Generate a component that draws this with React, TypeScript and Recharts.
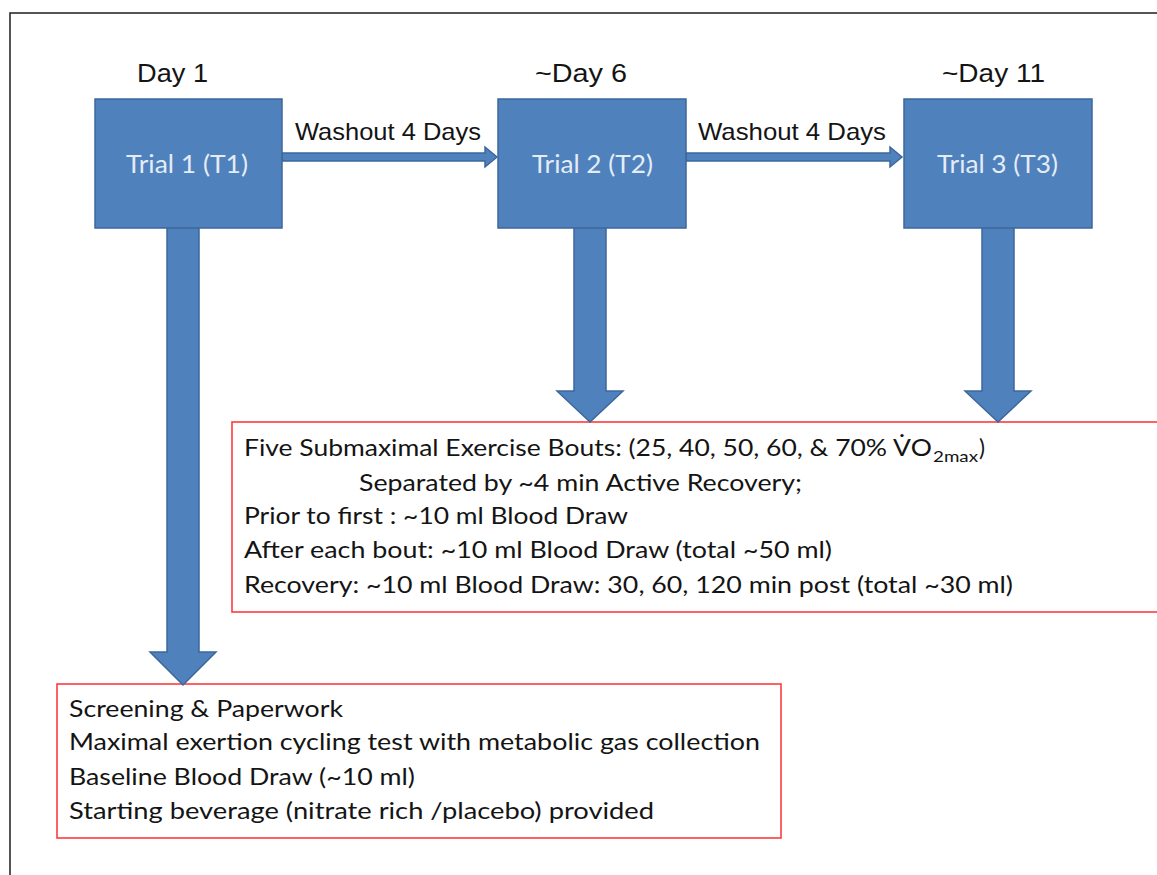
import { Scatter, ScatterChart, XAxis, YAxis } from "recharts";

const W = 1157;
const H = 875;

// text content
const dayLabels = ["Day 1", "~Day 6", "~Day 11"];
const trialLabels = ["Trial 1 (T1)", "Trial 2 (T2)", "Trial 3 (T3)"];
const washoutLabels = ["Washout 4 Days", "Washout 4 Days"];
const boutLine = ["Five Submaximal Exercise Bouts: (25, 40, 50, 60, & 70% V\u0307O", "2max", ")"];
const trialSteps = [
  "Separated by ~4 min Active Recovery;",
  "Prior to first : ~10 ml Blood Draw",
  "After each bout: ~10 ml Blood Draw (total ~50 ml)",
  "Recovery: ~10 ml Blood Draw: 30, 60, 120 min post (total ~30 ml)",
];
const screeningSteps = [
  "Screening & Paperwork",
  "Maximal exertion cycling test with metabolic gas collection",
  "Baseline Blood Draw (~10 ml)",
  "Starting beverage (nitrate rich /placebo) provided",
];

// layout (diagram units = px, domain matches the chart size)
const trialBoxLayout = [
  { x: 95, y: 99, w: 187, h: 129 },
  { x: 498, y: 99, w: 188, h: 129 },
  { x: 904, y: 99, w: 188, h: 129 },
];
const dayLayout = [
  { x: 137, w: 71 },
  { x: 535, w: 92 },
  { x: 942, w: 103 },
];
const trialTextLayout = [
  { x: 126, w: 122 },
  { x: 532, w: 121 },
  { x: 937, w: 121 },
];
const washoutLayout = [
  { x: 295, w: 186 },
  { x: 698, w: 188 },
];
const arrowLayout = [
  { x: 282, y: 157, tx: 497, ty: 157, s: 4, hw: 10, hl: 12 },
  { x: 686, y: 157, tx: 902, ty: 157, s: 4, hw: 10, hl: 12 },
  { x: 183, y: 226, tx: 183, ty: 685, s: 16, hw: 33, hl: 33 },
  { x: 590, y: 226, tx: 590, ty: 422, s: 16, hw: 33, hl: 31 },
  { x: 998, y: 226, tx: 998, ty: 422, s: 16, hw: 33, hl: 31 },
];
const redBoxLayout = [
  { x: 232, y: 422, w: 960, h: 190 },
  { x: 57, y: 684, w: 724, h: 154 },
];
const frameLayout = [{ x: 10, y: 13, w: 1200, h: 900 }];
const stepsX = 244;
const stepsIndentX = 359;
const stepsBase = [491, 524, 558, 593];
const stepsLen = [443, 384, 588, 769];
const screenX = 69;
const screenBase = [717, 750, 785, 819];
const screenLen = [274, 691, 346, 585];

const BLUE = "#4f81bd";
const BLUE_EDGE = "#3c679c";
const RED = "#ff3b3b";
const INK = "#141414";
const CAL = "Lato, 'Open Sans', sans-serif";
const ARIAL = "'Liberation Sans', Arial, sans-serif";

const kx = 1;
const ky = 1;

const rectShape = (fill: string, stroke: string, sw: number) => (p: any) => (
  <rect
    x={p.cx}
    y={p.cy}
    width={p.payload.w * kx}
    height={p.payload.h * ky}
    fill={fill}
    stroke={stroke}
    strokeWidth={sw}
  />
);

const arrowShape = (p: any) => {
  const d = p.payload;
  const x0 = p.cx;
  const y0 = p.cy;
  const x1 = x0 + (d.tx - d.x) * kx;
  const y1 = y0 + (d.ty - d.y) * ky;
  const len = Math.hypot(x1 - x0, y1 - y0);
  const ux = (x1 - x0) / len;
  const uy = (y1 - y0) / len;
  const nx = -uy;
  const ny = ux;
  const bx = x1 - ux * d.hl;
  const by = y1 - uy * d.hl;
  const pts = [
    [x0 + nx * d.s, y0 + ny * d.s],
    [bx + nx * d.s, by + ny * d.s],
    [bx + nx * d.hw, by + ny * d.hw],
    [x1, y1],
    [bx - nx * d.hw, by - ny * d.hw],
    [bx - nx * d.s, by - ny * d.s],
    [x0 - nx * d.s, y0 - ny * d.s],
  ]
    .map((q) => q.join(","))
    .join(" ");
  return <polygon points={pts} fill={BLUE} stroke={BLUE_EDGE} strokeWidth={1.5} strokeLinejoin="miter" />;
};

const textShape = (p: any) => {
  const d = p.payload;
  return (
    <text
      x={p.cx}
      y={p.cy}
      fontSize={d.size}
      fontFamily={d.family}
      fill={d.fill}
      textLength={d.len}
      lengthAdjust="spacingAndGlyphs"
    >
      {d.text}
    </text>
  );
};

const trialBoxes = trialBoxLayout.map((b) => ({ ...b }));
const redBoxes = redBoxLayout.map((b) => ({ ...b }));
const frame = frameLayout.map((b) => ({ ...b }));
const arrows = arrowLayout.map((a) => ({ ...a }));

const texts = [
  ...dayLabels.map((t, i) => ({ x: dayLayout[i].x, y: 82, len: dayLayout[i].w, text: t, size: 26, family: ARIAL, fill: INK })),
  ...washoutLabels.map((t, i) => ({ x: washoutLayout[i].x, y: 140, len: washoutLayout[i].w, text: t, size: 24, family: ARIAL, fill: INK })),
  ...trialLabels.map((t, i) => ({ x: trialTextLayout[i].x, y: 173, len: trialTextLayout[i].w, text: t, size: 25, family: CAL, fill: "#e4ecf6" })),
  { x: stepsX, y: 456, len: 688, text: boutLine[0], size: 24, family: CAL, fill: INK },
  { x: 933, y: 462, len: 45, text: boutLine[1], size: 16, family: CAL, fill: INK },
  { x: 979, y: 456, len: 6, text: boutLine[2], size: 24, family: CAL, fill: INK },
  ...trialSteps.map((t, i) => ({
    x: i === 0 ? stepsIndentX : stepsX,
    y: stepsBase[i],
    len: stepsLen[i],
    text: t,
    size: 24,
    family: CAL,
    fill: INK,
  })),
  ...screeningSteps.map((t, i) => ({ x: screenX, y: screenBase[i], len: screenLen[i], text: t, size: 24, family: CAL, fill: INK })),
];

export default function App() {
  return (
    <div style={{ position: "absolute", left: 0, top: 0, background: "#fff" }}>
      <ScatterChart width={W} height={H} margin={{ top: 0, right: 0, bottom: 0, left: 0 }}>
        <XAxis type="number" dataKey="x" domain={[0, W]} allowDataOverflow hide />
        <YAxis type="number" dataKey="y" domain={[0, H]} allowDataOverflow reversed hide />
        <Scatter data={frame} shape={rectShape("none", "#1e1e1e", 1.5)} isAnimationActive={false} />
        <Scatter data={redBoxes} shape={rectShape("#fff", RED, 1.6)} isAnimationActive={false} />
        <Scatter data={arrows} shape={arrowShape} isAnimationActive={false} />
        <Scatter data={trialBoxes} shape={rectShape(BLUE, BLUE_EDGE, 1.5)} isAnimationActive={false} />
        <Scatter data={texts} shape={textShape} isAnimationActive={false} />
      </ScatterChart>
    </div>
  );
}
